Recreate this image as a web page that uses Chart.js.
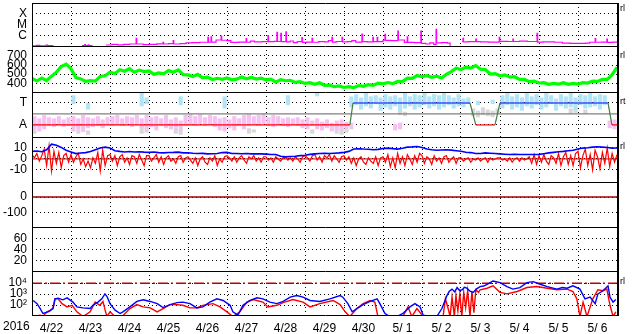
<!DOCTYPE html>
<html>
<head>
<meta charset="utf-8">
<script src="https://cdn.jsdelivr.net/npm/chart.js@4.4.0/dist/chart.umd.min.js"></script>
<style>
  html, body { margin: 0; padding: 0; background: #fff; }
  #wrap { position: relative; width: 633px; height: 334px; overflow: hidden; font-family: "Liberation Sans", Arial, sans-serif; color: #000; }
  #wrap canvas { position: absolute; left: 0; }
  .side { position: absolute; left: 620px; font-size: 9px; line-height: 9px; }
  #year { position: absolute; left: 3px; top: 319px; font-size: 12px; line-height: 14px; }
</style>
</head>
<body>
<div id="wrap">
  <canvas id="p1" width="633" height="43" style="top:3px"></canvas>
  <canvas id="p2" width="633" height="46" style="top:46px"></canvas>
  <canvas id="p3" width="633" height="45" style="top:92px"></canvas>
  <canvas id="p4" width="633" height="45" style="top:137px"></canvas>
  <canvas id="p5" width="633" height="45" style="top:182px"></canvas>
  <canvas id="p6" width="633" height="44" style="top:227px"></canvas>
  <canvas id="p7" width="633" height="63" style="top:271px"></canvas>
  <div class="side" style="top:4px">rl</div>
  <div class="side" style="top:51px">rl</div>
  <div class="side" style="top:97px">rt</div>
  <div class="side" style="top:142px">rl</div>
  <div class="side" style="top:277px">rl</div>
  <div id="year">2016</div>
</div>
<script>
// jours affichés (00 UT de chaque jour)
const dayLabels = ['4/22', '4/23', '4/24', '4/25', '4/26', '4/27', '4/28', '4/29', '4/30',
  '5/ 1', '5/ 2', '5/ 3', '5/ 4', '5/ 5', '5/ 6'];

// rayons X (jour, W/m2)
const xrayFlux = [
  [0, 1.1e-7], [0.12, 1.2e-7], [0.2, 1.1e-7], [0.36, 1.25e-7], [0.4, 1.15e-7], [0.54, 1.1e-7], [0.56, null],
  [1.28, 1.15e-7], [1.35, 1.4e-7], [1.37, 1.15e-7], [1.44, 1.35e-7], [1.46, 1.15e-7], [1.54, 1.2e-7], [1.56, null],
  [1.9, 1.3e-7], [2.05, 1.45e-7], [2.2, 1.35e-7], [2.35, 1.5e-7], [2.5, 1.6e-7], [2.67, 5.3e-7], [2.685, 1.6e-7],
  [2.85, 1.4e-7], [3.0, 1.5e-7], [3.2, 1.65e-7], [3.36, 2.3e-7], [3.375, 1.6e-7], [3.5, 1.7e-7], [3.62, 3.2e-7],
  [3.635, 1.6e-7], [3.8, 1.75e-7], [3.95, 2.0e-7], [4.1, 2.1e-7], [4.3, 2.3e-7], [4.51, 6.6e-7], [4.525, 2.3e-7],
  [4.59, 7.2e-7], [4.605, 2.4e-7], [4.72, 3.7e-7], [4.85, 8.6e-7], [4.865, 3.5e-7], [5.0, 3.3e-7], [5.1, 2.2e-7],
  [5.3, 2.4e-7], [5.49, 5.0e-7], [5.505, 2.3e-7], [5.6, 2.9e-7], [5.7, 2.5e-7], [5.9, 2.6e-7], [6.05, 9.2e-7],
  [6.065, 2.6e-7], [6.2, 2.8e-7], [6.28, 1.87e-6], [6.295, 2.7e-7], [6.38, 1.5e-6], [6.395, 2.6e-7], [6.51, 2.0e-6],
  [6.525, 2.5e-7], [6.62, 3.0e-7], [6.7, 2.1e-7], [6.8, 2.6e-7], [6.92, 6.0e-7], [6.935, 2.2e-7], [7.05, 2.4e-7],
  [7.18, 5.3e-7], [7.195, 2.3e-7], [7.35, 2.6e-7], [7.5, 2.5e-7], [7.6, 3.2e-7], [7.69, 6.6e-7], [7.705, 2.4e-7],
  [7.8, 2.7e-7], [7.95, 6.6e-7], [7.965, 2.5e-7], [8.1, 2.6e-7], [8.2, 3.3e-7], [8.3, 2.4e-7], [8.46, 1.3e-6],
  [8.475, 2.6e-7], [8.6, 2.5e-7], [8.74, 6.6e-7], [8.755, 2.6e-7], [8.85, 6.6e-7], [8.865, 2.6e-7], [9.0, 3.5e-7],
  [9.05, 1.2e-6], [9.065, 3.4e-7], [9.2, 3.3e-7], [9.38, 2.4e-6], [9.395, 3.7e-7], [9.55, 2.2e-7], [9.62, 7.0e-7],
  [9.635, 2.2e-7], [9.8, 2.1e-7], [9.97, 2.4e-6], [9.985, 1.8e-7], [10.1, 1.6e-7], [10.2, 2.0e-7], [10.3, 1.5e-7],
  [10.36, 3.5e-6], [10.375, 2.0e-7], [10.5, 2.1e-7], [10.65, 1.9e-7], [10.72, 9e-8], [10.74, null],
  [11.03, 2.6e-7], [11.05, 5.3e-7], [11.065, 2.5e-7], [11.2, 2.6e-7], [11.38, 4.5e-7], [11.395, 2.6e-7],
  [11.5, 2.5e-7], [11.7, 2.4e-7], [11.98, 6.6e-7], [11.995, 2.8e-7], [12.2, 2.7e-7], [12.33, 4.5e-7],
  [12.345, 2.7e-7], [12.5, 2.9e-7], [12.7, 2.7e-7], [12.95, 1.5e-6], [12.965, 2.4e-7], [13.1, 2.5e-7],
  [13.4, 2.3e-7], [13.6, 1.9e-7], [13.8, 1.85e-7], [14.0, 1.8e-7], [14.2, 1.9e-7], [14.3, 2.3e-7], [14.44, 5.0e-7],
  [14.455, 2.3e-7], [14.6, 2.4e-7], [14.74, 4.5e-7], [14.755, 2.2e-7], [14.9, 2.4e-7], [15.0, 2.4e-7]
];

// vent solaire, toutes les 3 heures (km/s)
const windSpeed = [
  452, 425, 458, 430, 478, 520, 585, 610, 560, 462, 448, 420, 428, 425, 475, 482,
  522, 508, 548, 532, 560, 522, 545, 528, 535, 498, 515, 505, 540, 522, 548, 495,
  492, 475, 498, 460, 468, 442, 455, 444, 458, 438, 446, 470, 450, 465, 447, 456,
  437, 445, 412, 440, 428, 433, 410, 417, 398, 406, 388, 405, 378, 380, 362, 370,
  354, 363, 352, 375, 366, 386, 378, 402, 393, 408, 396, 420, 418, 456, 455, 485,
  472, 484, 465, 478, 458, 498, 528, 565, 550, 578, 566, 595, 555, 550, 502, 506,
  482, 492, 468, 472, 443, 442, 418, 424, 403, 406, 389, 398, 390, 406, 389, 398,
  390, 406, 402, 424, 420, 442, 442, 495, 575
];

// secteur IMF (A / T) et nuages d'angle (bin de 3 h, bas, haut)
const sectorDay = [0, 8.15, 8.23, 11.23, 11.38, 11.87, 12.0, 14.77, 14.87, 15];
const sectorSide = ['A', 'A', 'T', 'T', 'A', 'A', 'T', 'T', 'A', 'A'];
const pinkCloud = [
  [0, 0.5, 1.8], [1, 0.4, 1.6], [2, 0.6, 1.9], [3, 0.9, 1.7], [4, 0.8, 1.6], [5, 1.0, 1.8], [6, 0.8, 1.5],
  [7, 0.9, 1.7], [8, 0.4, 1.8], [9, 0.6, 1.6], [10, 0.35, 1.9], [11, 0.7, 1.7], [12, 0.8, 1.6], [13, 0.9, 1.8],
  [14, 0.7, 1.5], [15, 1.0, 1.7], [16, 0.9, 1.8], [17, 1.0, 1.9], [18, 0.9, 1.6], [19, 1.1, 1.8], [20, 0.8, 1.7],
  [21, 1.0, 1.9], [22, 0.7, 1.6], [23, 0.6, 1.9], [24, 0.8, 1.7], [25, 0.5, 1.8], [26, 0.9, 1.6], [27, 0.7, 1.9],
  [28, 0.6, 1.5], [29, 0.8, 1.7], [30, 0.5, 1.4], [31, 0.9, 1.9], [32, 1.0, 2.0], [33, 0.9, 1.8], [34, 1.1, 2.0],
  [35, 0.9, 1.7], [36, 1.0, 1.9], [37, 0.8, 1.8], [38, 0.5, 1.6], [39, 0.4, 1.7], [40, 0.7, 1.5], [41, 0.5, 1.8],
  [42, 0.9, 1.6], [43, 0.6, 1.9], [44, 0.9, 2.0], [45, 1.0, 1.8], [46, 0.9, 1.9], [47, 1.1, 2.0], [48, 0.9, 1.7],
  [49, 0.8, 1.9], [50, 1.0, 1.8], [51, 0.9, 1.6], [52, 0.8, 1.7], [53, 1.0, 1.6], [54, 0.9, 1.7], [55, 0.7, 1.5],
  [56, 0.6, 1.7], [57, 0.9, 1.4], [58, 0.6, 1.6], [59, 0.5, 1.3], [60, 0.7, 1.5], [61, 0.4, 1.2], [62, 0.6, 1.4],
  [63, 0.5, 1.5], [64, 0.8, 1.3], [65, 0.6, 1.2], [74, 0.5, 1.1], [75, 0.6, 1.2], [118, 0.7, 1.4], [119, 0.6, 1.5]
];
const skyCloud = [
  [8, 2.9, 3.7], [11, 2.4, 3.0], [22, 2.7, 3.9], [23, 2.9, 3.5], [30, 2.8, 3.6], [39, 2.5, 3.6], [52, 2.8, 3.7],
  [58, 3.6, 3.95], [65, 2.6, 3.6], [66, 2.8, 3.8], [67, 2.4, 3.5], [68, 2.7, 3.9], [69, 2.5, 3.6], [70, 2.9, 3.7],
  [71, 2.3, 3.5], [72, 2.6, 3.8], [73, 2.4, 3.6], [74, 2.7, 3.7], [75, 2.2, 3.5], [76, 2.5, 3.9], [77, 2.7, 3.6],
  [78, 2.4, 3.8], [79, 2.6, 3.7], [80, 2.8, 3.9], [81, 2.5, 3.6], [82, 2.7, 3.8], [83, 2.4, 3.7], [84, 2.6, 3.9],
  [85, 2.8, 3.7], [86, 2.5, 3.5], [87, 2.7, 3.8], [88, 2.6, 3.4], [89, 2.9, 3.5], [91, 2.8, 3.2], [94, 2.9, 3.3],
  [96, 2.5, 3.7], [97, 2.8, 3.9], [98, 2.4, 3.6], [99, 2.6, 3.8], [100, 2.3, 3.5], [101, 2.7, 3.9], [102, 2.5, 3.6],
  [103, 2.8, 3.8], [104, 2.4, 3.5], [105, 2.6, 3.9], [106, 2.9, 3.7], [107, 2.3, 3.4], [108, 2.7, 3.8],
  [109, 2.5, 3.6], [110, 2.6, 3.9], [111, 2.4, 3.5], [112, 2.8, 3.8], [113, 2.5, 3.7], [114, 2.6, 3.9],
  [115, 2.7, 3.6], [116, 2.4, 3.8], [117, 2.8, 3.7]
];
const greyCloud = [
  [0, 0.2, 0.5], [9, 0.2, 0.6], [11, 0.1, 0.5], [22, 0.2, 0.9], [23, 0.3, 0.7], [29, 0.2, 0.8], [30, 0.1, 0.6],
  [44, 0.2, 0.7], [45, 0.3, 0.6], [57, 0.2, 0.6], [62, 0.2, 0.9], [63, 0.1, 0.7], [64, 0.3, 0.9], [75, 1.9, 2.4],
  [76, 1.8, 2.2], [90, 1.8, 2.5], [91, 1.7, 2.3], [92, 1.9, 2.6], [93, 1.8, 2.4], [94, 1.7, 2.3], [95, 2.0, 2.5],
  [110, 2.0, 2.5], [111, 2.1, 2.6], [113, 2.0, 2.4]
];

// champ magnétique |B|, toutes les 3 heures (nT)
const fieldBt = [
  6.9, 7.3, 6.6, 8.4, 13.5, 12.5, 10.5, 8.0, 6.4, 4.9, 5.4, 5.8, 6.7, 8.4, 9.9, 10.8,
  9.9, 7.5, 6.9, 6.4, 6.8, 6.4, 6.6, 6.2, 6.0, 6.3, 5.8, 5.5, 5.9, 6.0, 6.2, 5.5,
  5.7, 5.2, 4.9, 5.1, 4.6, 4.8, 5.0, 5.8, 6.0, 5.0, 4.9, 4.7, 4.9, 4.6, 4.8, 4.6,
  4.4, 4.0, 4.0, 2.5, 1.9, 2.2, 2.5, 3.0, 3.4, 4.2, 4.6, 4.9, 5.1, 4.9, 5.2, 5.5,
  6.0, 6.9, 9.0, 9.3, 9.0, 8.8, 8.4, 8.7, 9.5, 9.9, 9.4, 9.0, 9.8, 10.8, 11.0, 11.4,
  10.5, 9.0, 8.4, 7.9, 8.2, 8.4, 8.0, 7.5, 7.0, 6.1, 5.8, 4.9, 5.0, 5.5, 5.2, 4.9,
  4.6, 4.3, 4.0, 4.2, 4.0, 4.1, 4.0, 4.0, 4.2, 4.8, 5.5, 6.0, 6.5, 6.9, 7.4, 7.9,
  9.0, 9.9, 10.2, 10.8, 11.1, 10.8, 10.5, 9.9, 10.0
];
// composante Bz, toutes les 1,5 heures (nT)
const fieldBz = [
  4, 1, 5, -2, 3, 9, -6, 12, -11, 7, -4, 6, -8, 3, 5, -3,
  4, -3, 2, 5, -5, 0, -7, -2, -8, 1, -4, 6, -11, 8, -6, 3,
  4, -2, 3, -6, 2, 4, -3, 1, -5, 3, 2, -4, 4, -1, -6, 3,
  3, -2, 1, 4, -3, 2, -5, 1, 3, -2, 0, -4, 2, 3, -3, 1,
  2, -1, -4, 1, -6, 0, 2, -3, -5, 1, -2, 3, -6, 0, -3, 2,
  3, 1, -2, 2, -3, 1, 3, -1, -4, 2, 0, 3, -2, 1, -3, 2,
  2, -1, 1, -3, 2, 0, -2, 1, 2, -1, 1, -2, 2, 0, -3, 2,
  3, 1, -2, 3, 4, -1, 2, -3, 3, 1, 4, -2, 3, 0, -3, 2,
  3, -1, 2, -4, 1, -6, 0, 2, -3, -5, 1, -2, -4, 2, -6, 1,
  2, -3, 4, -7, 1, -8, 5, -4, 2, -6, 4, 0, -5, 3, -3, 5,
  3, -4, 2, 0, -5, 3, -2, 1, -4, 2, 3, -3, 0, 2, -4, 1,
  1, -2, 0, 1, -3, 0, -1, 1, -2, 0, 1, -3, 1, -1, 0, 1,
  1, -1, 0, -2, 1, -3, 0, 1, -2, 1, -1, 0, 2, -4, 4, -5,
  3, -3, 4, -2, -5, 3, 1, -4, 5, -6, 2, 6, -5, 3, -6, 5,
  7, -8, 3, 9, -6, 4, -10, 8, 2, -9, 6, -4, 10, -7, 5, -3,
  4
];

// flux de particules (jour, valeur)
const fluxBlue = [
  [0.03, 263], [0.13, 135], [0.21, 48], [0.28, 17], [0.41, 24], [0.54, 48], [0.59, 372], [0.67, 427], [0.79, 302],
  [0.9, 457], [0.97, 302], [1.05, 186], [1.15, 68], [1.31, 55], [1.49, 48], [1.56, 95], [1.69, 186], [1.79, 372],
  [1.87, 1047], [1.92, 631], [2.0, 135], [2.13, 34], [2.26, 17], [2.33, 24], [2.51, 68], [2.69, 214], [2.85, 302],
  [3.03, 214], [3.21, 135], [3.36, 59], [3.54, 110], [3.72, 166], [3.87, 186], [4.05, 135], [4.23, 55], [4.38, 68],
  [4.56, 186], [4.74, 372], [4.9, 263], [5.08, 95], [5.15, 24], [5.28, 12], [5.41, 95], [5.59, 263], [5.77, 457],
  [5.92, 372], [6.1, 186], [6.28, 135], [6.44, 214], [6.62, 525], [6.79, 741], [6.95, 525], [7.13, 263], [7.38, 214],
  [7.64, 372], [7.9, 741], [7.97, 525], [8.1, 135], [8.21, 24], [8.33, 48], [8.49, 110], [8.67, 214], [8.85, 372],
  [8.92, 135], [9.05, 17], [9.18, 9], [9.36, 9], [9.51, 17], [9.69, 68], [9.82, 135], [9.95, 68], [10.03, 12],
  [10.21, 9], [10.38, 9], [10.51, 48], [10.64, 741], [10.7, 1800], [10.77, 2884], [10.84, 1600], [10.9, 3981],
  [10.96, 2200], [11.03, 2512], [11.09, 4200], [11.15, 3467], [11.22, 2000], [11.31, 1445], [11.4, 3000],
  [11.49, 4898], [11.58, 5500], [11.67, 7943], [11.82, 15849], [12.0, 11220], [12.18, 4898], [12.33, 2884],
  [12.51, 3981], [12.69, 11220], [12.85, 13804], [13.03, 7943], [13.21, 4898], [13.46, 2884], [13.6, 4000],
  [13.72, 3467], [13.87, 5754], [14.05, 2884], [14.18, 372], [14.31, 525], [14.44, 135], [14.51, 1047],
  [14.64, 2042], [14.77, 5754], [14.82, 525], [14.9, 186], [14.97, 316]
];
const fluxRed = [
  [0.03, 9], [0.21, 12], [0.28, 9], [0.38, 24], [0.46, 30], [0.54, 55], [0.59, 372], [0.67, 372], [0.77, 135],
  [0.9, 68], [1.03, 95], [1.15, 24], [1.31, 9], [1.49, 24], [1.62, 186], [1.74, 95], [1.82, 214], [1.87, 40],
  [1.92, 9], [2.0, 24], [2.13, 9], [2.31, 9], [2.51, 48], [2.69, 110], [2.85, 68], [3.03, 55], [3.21, 24],
  [3.36, 48], [3.54, 110], [3.72, 110], [3.87, 95], [4.05, 55], [4.23, 55], [4.38, 95], [4.64, 135], [4.82, 68],
  [5.0, 24], [5.15, 9], [5.33, 24], [5.51, 186], [5.67, 316], [5.92, 186], [6.05, 68], [6.28, 95], [6.44, 166],
  [6.69, 316], [6.95, 186], [7.13, 68], [7.38, 135], [7.72, 263], [7.9, 110], [8.03, 24], [8.15, 9], [8.33, 48],
  [8.49, 135], [8.67, 263], [8.79, 186], [8.87, 9], [9.1, 9], [9.51, 9], [9.64, 68], [9.74, 9], [9.87, 48],
  [10.03, 9], [10.54, 9], [10.6, 372], [10.67, 48], [10.72, 9], [10.77, 525], [10.83, 9], [10.87, 741], [10.92, 30],
  [10.97, 1047], [11.02, 9], [11.07, 1445], [11.12, 60], [11.17, 2000], [11.23, 9], [11.28, 1800], [11.33, 20],
  [11.38, 2512], [11.45, 1445], [11.49, 2512], [11.67, 3467], [11.82, 5754], [12.0, 1445], [12.18, 1047],
  [12.44, 1738], [12.69, 3981], [12.95, 4898], [13.21, 3467], [13.46, 2512], [13.72, 2884], [13.87, 1738],
  [13.97, 372], [14.05, 9], [14.13, 186], [14.23, 9], [14.38, 372], [14.51, 2512], [14.64, 2042], [14.74, 2884],
  [14.82, 95], [14.9, 9], [14.97, 24]
];

const FONT = '"Liberation Sans", Arial, sans-serif';
const dayTicks = dayLabels.map((_, i) => i).concat(dayLabels.length);
const binDay = i => (i + 0.5) / 8;

const toPts = pairs => pairs.map(p => ({ x: p[0], y: p[1] }));
const onGrid = (vals, perDay) => vals.map((v, i) => ({ x: i / perDay, y: v }));
const toBars = cloud => cloud.map(c => ({ x: binDay(c[0]), y: [c[1], c[2]] }));
const level = { A: 1, T: 3 };

function line(data, color, width, extra) {
  return Object.assign({ type: 'line', data, borderColor: color, borderWidth: width, pointRadius: 0, fill: false, tension: 0, spanGaps: false }, extra || {});
}
function hline(v, color, width, extra) {
  return line([{ x: 0, y: v }, { x: dayLabels.length, y: v }], color, width, extra);
}
function bars(cloud, color, order) {
  return { type: 'bar', data: toBars(cloud), backgroundColor: color, borderWidth: 0, grouped: false,
    barPercentage: 0.85, categoryPercentage: 1, order };
}

// cadre noir des panneaux
const framePlugin = {
  id: 'frame',
  afterDatasetsDraw(chart) {
    const { ctx, chartArea: a } = chart;
    ctx.save();
    ctx.strokeStyle = '#000';
    ctx.lineWidth = 1;
    ctx.beginPath();
    ctx.moveTo(a.left, a.top + 0.5); ctx.lineTo(a.right + 2, a.top + 0.5);
    ctx.moveTo(a.left + 0.5, a.top); ctx.lineTo(a.left + 0.5, a.bottom);
    if (chart.canvas.id === 'p7') { ctx.moveTo(a.left, a.bottom - 0.5); ctx.lineTo(a.right + 2, a.bottom - 0.5); }
    ctx.stroke();
    ctx.lineWidth = 2;
    ctx.beginPath(); ctx.moveTo(a.right + 1, a.top); ctx.lineTo(a.right + 1, a.bottom); ctx.stroke();
    ctx.restore();
  }
};

function yTicks(values, labels) {
  return {
    afterBuildTicks: s => { s.ticks = values.map(v => ({ value: v })); },
    ticks: { padding: 5, color: '#000', autoSkip: false, font: { family: FONT, size: 12 },
      callback: (v, i) => labels[i] }
  };
}

function makePanel(id, y, datasets, bottom) {
  return new Chart(document.getElementById(id), {
    type: 'line',
    data: { datasets },
    options: {
      responsive: false,
      animation: false,
      devicePixelRatio: 1,
      events: [],
      layout: { padding: { left: 0, right: 16, top: 0, bottom: 0 } },
      plugins: { legend: { display: false }, tooltip: { enabled: false } },
      scales: {
        x: {
          type: 'linear', min: 0, max: dayLabels.length, offset: false,
          grid: { color: '#000', lineWidth: 1, drawTicks: false, offset: false },
          border: { display: false, dash: [1, 3] },
          afterBuildTicks: s => { s.ticks = dayTicks.map(v => ({ value: v })); },
          ticks: { display: bottom, autoSkip: false, maxRotation: 0, minRotation: 0, labelOffset: 19.5, padding: 5,
            color: '#000', font: { family: FONT, size: 12 }, callback: (v, i) => dayLabels[i] || '' },
          afterFit: s => { s.height = bottom ? 18 : 0; s.paddingLeft = 0; s.paddingRight = 0; }
        },
        y: Object.assign({
          grid: { color: '#000', lineWidth: 1, drawTicks: false },
          border: { display: false, dash: [1, 3] },
          afterFit: s => { s.width = 32; s.paddingTop = 0; s.paddingBottom = 0; }
        }, y)
      }
    },
    plugins: [framePlugin]
  });
}

// 1. rayons X
makePanel('p1', Object.assign({ type: 'logarithmic', min: 1.05e-7, max: 8.7e-4 },
  yTicks([1e-6, 1e-5, 1e-4], ['C', 'M', 'X'])),
  [line(toPts(xrayFlux), '#ff00ff', 1.2, { stepped: true })]);

// 2. vitesse du vent solaire
makePanel('p2', Object.assign({ type: 'linear', min: 304, max: 810 },
  yTicks([400, 500, 600, 700], ['400', '500', '600', '700'])),
  [line(onGrid(windSpeed, 8), '#00ff00', 3.2)]);

// 3. secteur IMF
makePanel('p3', Object.assign({ type: 'linear', min: -0.1, max: 4 },
  yTicks([1, 3], ['A', 'T'])),
  [
    line(sectorDay.map((d, i) => ({ x: d, y: level[sectorSide[i]] })), '#ff0000', 1.2, {
      order: 0,
      segment: { borderColor: c => c.p0.parsed.y !== c.p1.parsed.y ? '#408040' : (c.p0.parsed.y > 2 ? '#0000ff' : '#ff0000') }
    }),
    hline(2, '#808080', 1.2, { order: 1 }),
    bars(skyCloud, '#b0e4f6', 5),
    bars(pinkCloud, '#f6c0f2', 6),
    bars(greyCloud, '#d8d8d8', 7)
  ]);

// 4. Bt / Bz
makePanel('p4', Object.assign({ type: 'linear', min: -21, max: 20 },
  yTicks([-10, 0, 10], ['-10', '0', '10'])),
  [
    line(onGrid(fieldBt, 8), '#0000ff', 1.6, { order: 0 }),
    line(onGrid(fieldBz, 16), '#ff0000', 1.2, { order: 1 }),
    hline(0, '#c00000', 1, { order: 2 })
  ]);

// 5. indice Dst (pas de données)
makePanel('p5', Object.assign({ type: 'linear', min: -192, max: 96 },
  yTicks([-100, 0], ['-100', '0'])),
  [hline(0, '#a00000', 1.5)]);

// 6. panneau vide
makePanel('p6', Object.assign({ type: 'linear', min: 0.5, max: 80.5 },
  yTicks([20, 40, 60], ['20', '40', '60'])),
  []);

// 7. flux de particules
makePanel('p7', Object.assign({ type: 'logarithmic', min: 10, max: 1.3e5 },
  yTicks([1e2, 1e3, 1e4], ['10\u00b2', '10\u00b3', '10\u2074'])),
  [
    line(toPts(fluxBlue), '#0000ff', 1.4, { order: 0 }),
    line(toPts(fluxRed), '#ff0000', 1.4, { order: 1 }),
    hline(1e4, '#c00000', 1.6, { order: 2, borderDash: [10, 3, 2, 3] })
  ], true);
</script>
</body>
</html>
